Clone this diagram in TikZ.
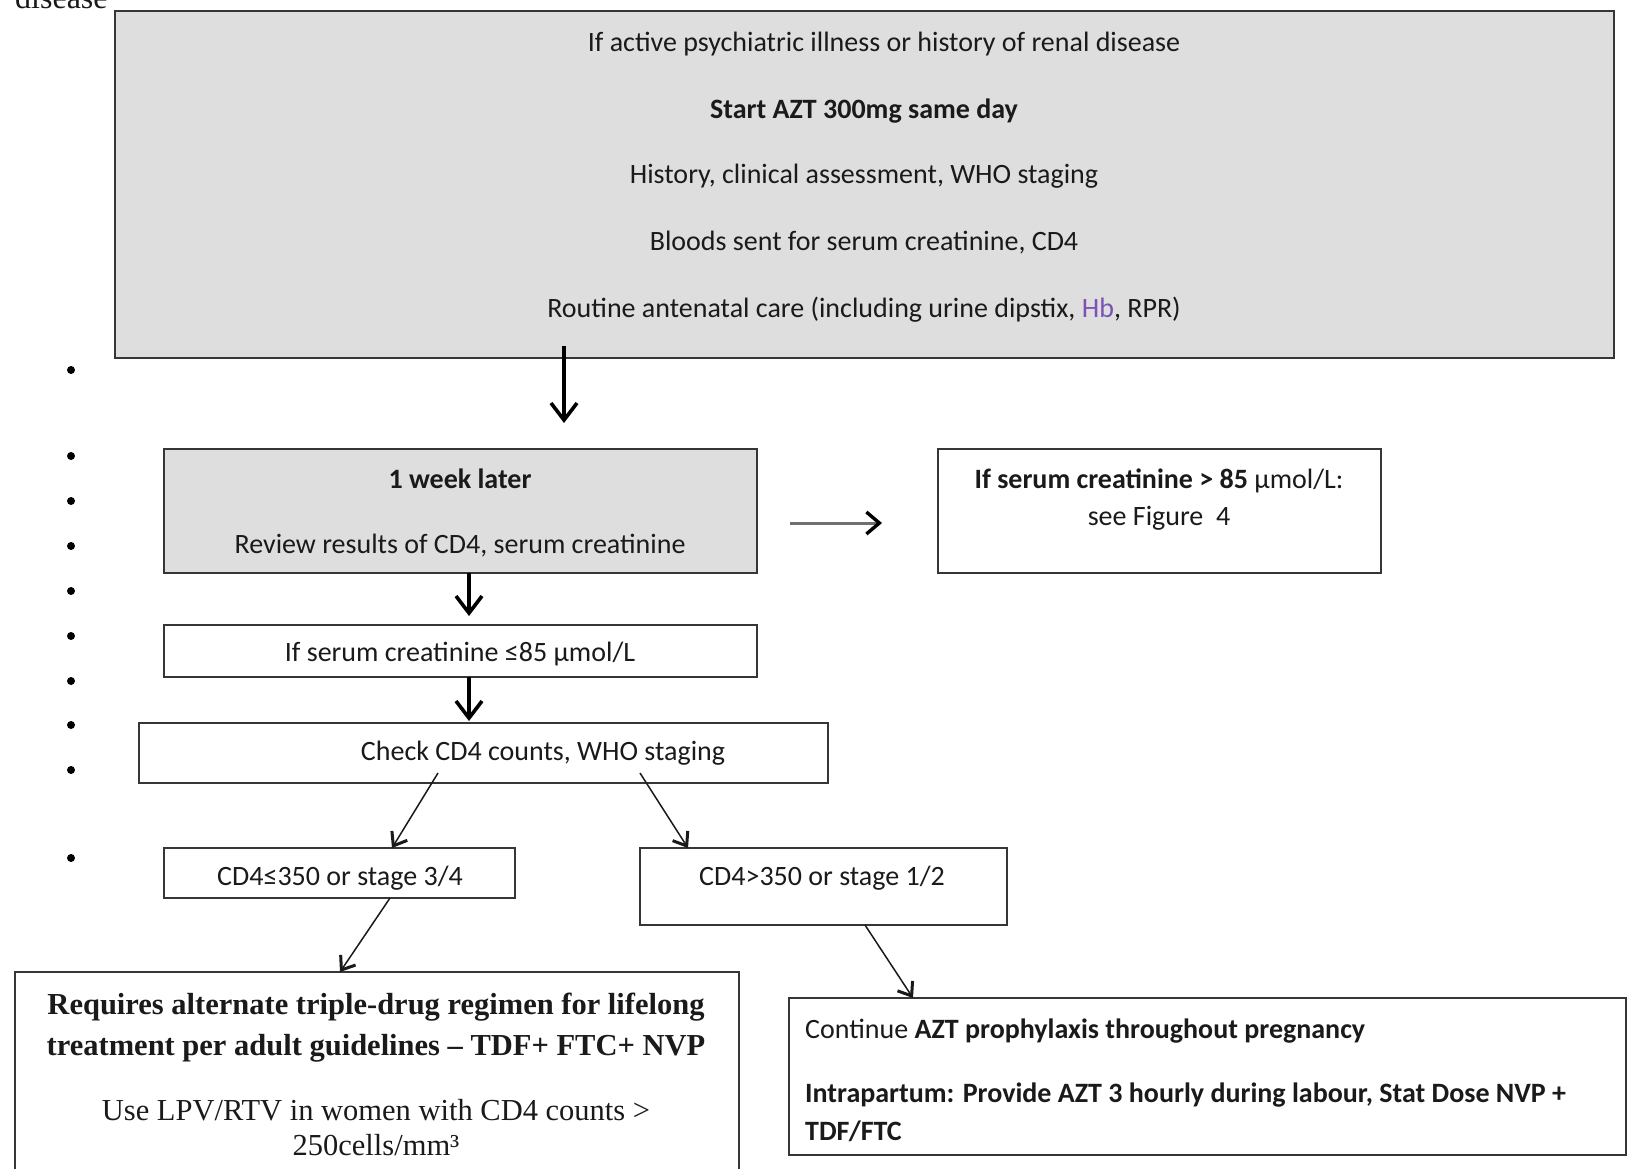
\documentclass[tikz,border=0pt]{standalone}
\usepackage{fontspec}
\setmainfont{Carlito}
\newfontfamily\tms{Liberation Serif}
\usetikzlibrary{arrows.meta,calc}
\definecolor{boxgray}{HTML}{DEDEDE}
\definecolor{edge}{HTML}{363636}
\definecolor{ink}{HTML}{1A1A1A}
\definecolor{hbpurple}{HTML}{7B52B5}
\definecolor{shaftgray}{HTML}{707070}
\begin{document}
\begin{tikzpicture}[x=1pt,y=-1pt,
  box/.style={draw=edge, line width=1.7pt, inner sep=0pt, outer sep=0pt},
  gbox/.style={box, fill=boxgray},
  txt/.style={font=\fontsize{28}{33}\selectfont, text=ink, inner sep=0pt, anchor=mid},
  ltxt/.style={txt, anchor=mid west},
  stxt/.style={font=\tms\fontsize{30.5}{35}\selectfont, text=ink, inner sep=0pt, anchor=mid},
  bigarrow/.style={draw=black, line width=3.6pt, -{Straight Barb[length=17pt,width=26pt,line width=3.6pt]}},
  thinarrow/.style={draw=ink, line width=1.5pt, -{Straight Barb[length=12pt,width=18pt,line width=3pt]}},
  grayarrow/.style={draw=shaftgray, line width=3pt, -{Straight Barb[length=13pt,width=22pt,line width=3.4pt,color=black]}},
  bullet/.style={circle, fill=black, inner sep=0pt, minimum size=8pt}]
\useasboundingbox (0,0) rectangle (1638,1168);
\fill[white] (0,0) rectangle (1638,1168);

% cut-off heading word
\node[font=\tms\fontsize{32}{36}\selectfont, text=ink, anchor=base west, inner sep=0pt] (dis) at (15,8) {disease};

% boxes
\node[gbox, minimum width=1499pt, minimum height=347pt] (top) at (864.5,184.5) {};
\node[gbox, minimum width=593pt, minimum height=124pt] (wk) at (460.5,511) {};
\node[box, minimum width=443pt, minimum height=124pt] (f4) at (1159.5,511) {};
\node[box, minimum width=593pt, minimum height=52pt] (le) at (460.5,651) {};
\node[box, minimum width=689pt, minimum height=60pt] (chk) at (483.5,753) {};
\node[box, minimum width=351pt, minimum height=50pt] (lo) at (339.5,873) {};
\node[box, minimum width=367pt, minimum height=77pt] (hi) at (823.5,886.5) {};
\node[box, minimum width=724pt, minimum height=240pt] (req) at (377,1092) {};
\node[box, minimum width=837pt, minimum height=157pt] (cont) at (1207.5,1076.5) {};

% texts: top box
\node[txt] (t1) at (884,49) {If active psychiatric illness or history of renal disease};
\node[txt] (t2) at (864,116) {\bfseries Start AZT 300mg same day};
\node[txt] (t3) at (864,181) {History, clinical assessment, WHO staging};
\node[txt] (t4) at (864,248) {Bloods sent for serum creatinine, CD4};
\node[txt] (t5) at (864,315) {Routine antenatal care (including urine dipstix, {\color{hbpurple}Hb}, RPR)};

% week box
\node[txt] (w1) at (460,486) {\bfseries 1 week later};
\node[txt] (w2) at (460,551) {Review results of CD4, serum creatinine};

% figure 4 box
\node[txt] (f1) at (1159,486) {{\bfseries If serum creatinine > 85} µmol/L:};
\node[txt] (f2) at (1159,523) {see Figure\ \ 4};

\node[txt] (l1) at (460,659) {If serum creatinine ≤85 µmol/L};
\node[txt] (c1) at (543,758) {Check CD4 counts, WHO staging};
\node[txt] (lo1) at (340,883) {CD4≤350 or stage 3/4};
\node[txt] (hi1) at (822,883) {CD4>350 or stage 1/2};

% left bottom box (serif)
\node[stxt] (r1) at (376,1012) {\bfseries Requires alternate triple-drug regimen for lifelong};
\node[stxt] (r2) at (376,1053) {\bfseries treatment per adult guidelines – TDF+ FTC+ NVP};
\node[stxt] (r3) at (376,1118) {Use LPV/RTV in women with CD4 counts >};
\node[stxt] (r4) at (376,1153) {250cells/mm³};

% right bottom box
\node[ltxt] (k1) at (805,1036) {Continue \bfseries AZT prophylaxis throughout pregnancy};
\node[ltxt] (k2) at (805,1100) {\bfseries Intrapartum: Provide AZT 3 hourly during labour, Stat Dose NVP +};
\node[ltxt] (k3) at (805,1138) {\bfseries TDF/FTC};

% bullets
\foreach \yy [count=\i] in {370,456,501,546,591,636,681,725,770,858}
  \node[bullet] (b\i) at (71,\yy) {};

% connectors
\draw[bigarrow, shorten >=26pt] ($(top.south west)+(449,-12)$) -- ($(wk.north west)+(400,0)$);
\draw[bigarrow, shorten >=9pt] ($(wk.south west)+(305,0)$) -- ($(le.north west)+(305,0)$);
\draw[bigarrow, shorten >=2pt] ($(le.south west)+(305,0)$) -- ($(chk.north west)+(330,0)$);
\draw[grayarrow, shorten <=33pt, shorten >=56pt] ($(wk.north east)+(0,74)$) -- ($(f4.north west)+(0,74)$);
\draw[thinarrow] ($(chk.south west)+(299,-10)$) -- ($(lo.north west)+(228,0)$);
\draw[thinarrow] ($(chk.south west)+(501,-10)$) -- ($(hi.north west)+(48,0)$);
\draw[thinarrow] ($(lo.south west)+(226,0)$) -- ($(req.north west)+(325,0)$);
\draw[thinarrow] ($(hi.south west)+(225,0)$) -- ($(cont.north west)+(124,0)$);
\end{tikzpicture}
\end{document}
